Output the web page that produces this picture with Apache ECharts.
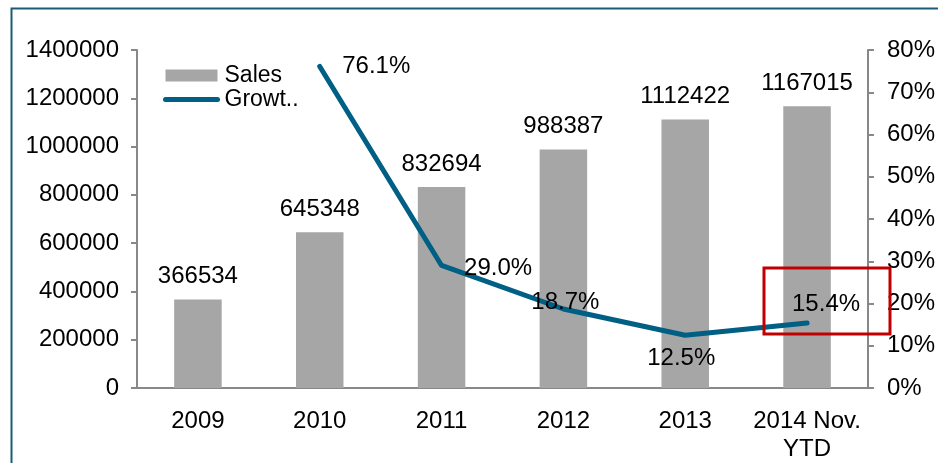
<!DOCTYPE html>
<html><head><meta charset="utf-8">
<script src="https://cdn.jsdelivr.net/npm/echarts@6/dist/echarts.min.js"></script>
<style>html,body{margin:0;padding:0;background:#fff}#c{width:938px;height:463px}</style>
</head><body><div id="c"></div>
<script>
const categories = ['2009', '2010', '2011', '2012', '2013', '2014 Nov.\nYTD'];
const sales = [366534, 645348, 832694, 988387, 1112422, 1167015];
const growth = [null, 0.761, 0.290, 0.187, 0.125, 0.154];
const growthLabelPos = [null, 'right', 'right', 'top', 'bottom', 'top'];

const font = 'Liberation Sans, Arial, sans-serif';
const fs = 24;
const labelTweak = [null,
  {distance: 22, offset: [0, 0]},
  {distance: 22, offset: [0, 3]},
  {distance: -6, offset: [2, 0]},
  {distance: 11, offset: [-4, 0]},
  {distance: 10, offset: [19, 4]}];
const chart = echarts.init(document.getElementById('c'));
chart.setOption({
  animation: false,
  textStyle: {fontFamily: font},
  grid: {left: 137, right: 68, top: 50, bottom: 71},
  legend: {
    orient: 'vertical', left: 163, top: 64, padding: 0, itemWidth: 52, itemHeight: 12, itemGap: 1,
    textStyle: {fontSize: 23, color: '#000', fontFamily: font, padding: [0,0,0,2]},
    formatter: n => n === 'Growth' ? 'Growt..' : n,
    data: [{name: 'Sales', icon: 'rect'},
           {name: 'Growth', lineStyle: {width: 5, color: '#005f85'}, itemStyle: {opacity: 0}}]
  },
  xAxis: {
    type: 'category', data: categories,
    axisLine: {lineStyle: {color: '#888', width: 2}},
    axisTick: {length: 6, lineStyle: {color: '#888', width: 2}},
    axisLabel: {interval: 0, color: '#000', fontSize: fs, margin: 19, lineHeight: 28, fontFamily: font}
  },
  yAxis: [{
    type: 'value', min: 0, max: 1400000, interval: 200000,
    axisLine: {show: true, lineStyle: {color: '#888', width: 2}},
    axisTick: {show: true, length: 6, lineStyle: {color: '#888', width: 2}},
    splitLine: {show: false},
    axisLabel: {color: '#000', fontSize: fs, margin: 18, fontFamily: font, formatter: v => String(v)}
  }, {
    type: 'value', min: 0, max: 0.8, interval: 0.1,
    axisLine: {show: true, lineStyle: {color: '#888', width: 2}},
    axisTick: {show: true, length: 6, lineStyle: {color: '#888', width: 2}},
    splitLine: {show: false},
    axisLabel: {color: '#000', fontSize: fs, margin: 19, fontFamily: font,
      formatter: v => Math.round(v * 100) + '%'}
  }],
  series: [{
    name: 'Sales', type: 'bar', data: sales, barWidth: '39%',
    itemStyle: {color: '#a6a6a6'},
    label: {show: true, position: 'top', distance: 11, color: '#000', fontSize: fs, fontFamily: font}
  }, {
    name: 'Growth', type: 'line', yAxisIndex: 1, symbol: 'circle', symbolSize: 1, showSymbol: true, z: 5,
    lineStyle: {color: '#005f85', width: 5, cap: 'round'},
    itemStyle: {color: '#005f85'},
    data: growth.map((v, i) => {
      if (v === null) return null;
      return {value: v, label: {show: true, position: growthLabelPos[i],
        distance: labelTweak[i].distance, offset: labelTweak[i].offset}};
    }),
    label: {show: true, color: '#000', fontSize: fs, fontFamily: font,
      formatter: p => (p.value * 100).toFixed(1) + '%'}
  }],
  graphic: [
    {type: 'rect', left: 9, top: 6, shape: {x: 0, y: 0, width: 960, height: 500},
     style: {fill: 'none', stroke: '#1c5a7a', lineWidth: 2}, silent: true, z: 0},
    {type: 'rect', shape: {x: 764, y: 268, width: 126, height: 66},
     style: {fill: 'none', stroke: '#c00000', lineWidth: 3}, silent: true, z: 100}
  ]
});
</script></body></html>
